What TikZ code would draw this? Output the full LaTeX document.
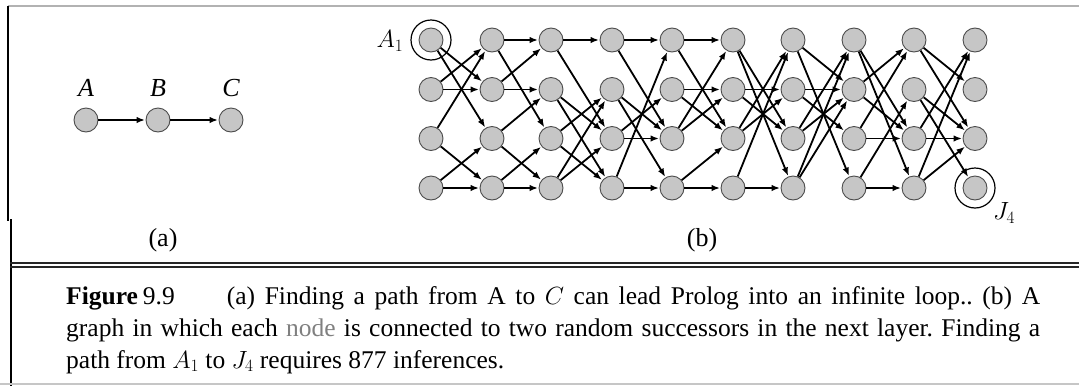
\documentclass[tikz,border=0pt]{standalone}
\usepackage{fontspec}
\setmainfont{Liberation Serif}
\usetikzlibrary{arrows.meta}
\frenchspacing
\begin{document}
\begin{tikzpicture}[x=1pt,y=-1pt,
  vtx/.style={circle,minimum size=24pt,inner sep=0pt,fill=gray!45,draw=gray!60!black,line width=0.9pt},
  arr/.style={line width=1.8pt,-{Latex[length=8.5pt,width=6.5pt]},shorten >=0.5pt},
  lbl/.style={font=\fontsize{26}{30}\selectfont\itshape,inner sep=0pt},
  mlbl/.style={font=\fontsize{25}{29}\selectfont,inner sep=0pt},
  plbl/.style={font=\fontsize{26}{30}\selectfont,inner sep=0pt},
  ring/.style={circle,draw,line width=1.2pt,minimum size=40pt,inner sep=0pt},
  capline/.style={anchor=base west,inner sep=0pt,font=\fontsize{25.5}{32}\selectfont},
  frame/.style={line width=1.2pt}
]
\useasboundingbox (0,0) rectangle (1079,386);
% frame
\draw[frame,gray!60] (8,6) -- (1079,6);
\draw[frame] (8,6) -- (8,221);
\draw[frame] (11,219) -- (11,386);
\draw[frame,gray!30!black] (10,263) -- (1079,263);
\draw[frame,gray!30!black] (10,267) -- (1079,267);
\draw[line width=2pt,gray!45] (0,384) -- (1079,384);

% (a)
\node[vtx] (a) at (86,120) {};
\node[vtx] (b) at (158,120) {};
\node[vtx] (c) at (231,120) {};
\node[lbl] (la) at (86,88) {A};
\node[lbl] (lb) at (158,88) {B};
\node[lbl] (lc) at (231,88) {C};
\draw[arr] (a) -- (b);
\draw[arr] (b) -- (c);
\node[plbl] (capa) at (163,240) {(a)};

% (b)
\foreach \c/\x in {1/431,2/492,3/551,4/612,5/672,6/733,7/793,8/854,9/914,10/975}{
  \foreach \r/\y in {1/40,2/89.5,3/138.5,4/188}{
    \node[vtx] (n\c-\r) at (\x,\y) {};
  }
}
\node[ring] (r1) at (n1-1) {};
\node[ring] (r2) at (n10-4) {};
\node[mlbl] (lA1) at (390,41) {$A_1$};
\node[mlbl] (lJ4) at (1004,213) {$J_4$};
\node[plbl] (capb) at (702,240) {(b)};

\foreach \s/\t in {
 1-1/2-2, 1-1/2-3, 1-2/2-1, 1-2/2-2, 1-3/2-1, 1-3/2-4, 1-4/2-3, 1-4/2-4,
 2-1/3-1, 2-1/3-3, 2-2/3-1, 2-2/3-2, 2-3/3-2, 2-3/3-4, 2-4/3-3, 2-4/3-4,
 3-1/4-1, 3-1/4-3, 3-2/4-3, 3-2/4-4, 3-3/4-2, 3-3/4-4, 3-4/4-2, 3-4/4-3,
 4-1/5-1, 4-1/5-3, 4-2/5-3, 4-2/5-4, 4-3/5-2, 4-3/5-3, 4-4/5-1, 4-4/5-4,
 5-1/6-1, 5-1/6-3, 5-2/6-2, 5-2/6-3, 5-3/6-1, 5-3/6-2, 5-4/6-3, 5-4/6-4,
 6-1/7-3, 6-1/7-4, 6-2/7-2, 6-2/7-3, 6-3/7-1, 6-3/7-2, 6-4/7-1, 6-4/7-4,
 7-1/8-2, 7-1/8-4, 7-2/8-2, 7-2/8-3, 7-3/8-1, 7-3/8-2, 7-4/8-1, 7-4/8-2,
 8-1/9-3, 8-1/9-4, 8-2/9-1, 8-2/9-3, 8-3/9-1, 8-3/9-3, 8-4/9-2, 8-4/9-4,
 9-1/10-2, 9-1/10-3, 9-2/10-3, 9-2/10-4, 9-3/10-1, 9-3/10-3, 9-4/10-1, 9-4/10-3}{
  \draw[arr] (n\s) -- (n\t);
}

% caption
\node[capline] (cap1) at (66,304) {\makebox[974pt][s]{\textbf{Figure}\hspace{5pt}9.9\hspace{52pt}(a) Finding a path from A to $C$ can lead Prolog into an infinite loop.. (b) A}};
\node[capline] (cap2) at (66,336) {\makebox[974pt][s]{graph in which each {\color{gray}node} is connected to two random successors in the next layer. Finding a}};
\node[capline] (cap3) at (66,368) {path from $A_1$ to $J_4$ requires 877 inferences.};
\end{tikzpicture}
\end{document}
